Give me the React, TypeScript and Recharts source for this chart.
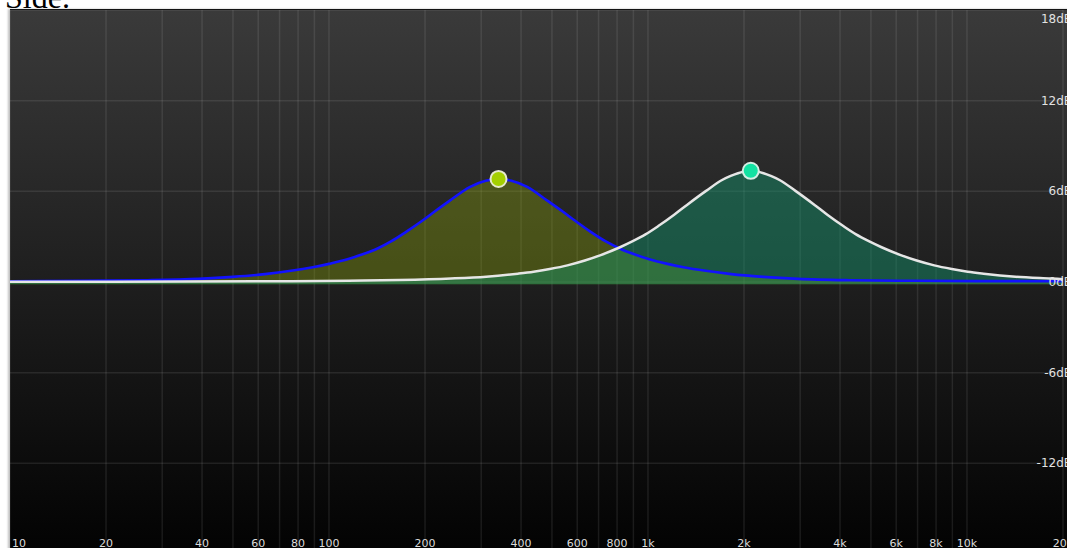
import React from 'react';
import {
  ComposedChart,
  Area,
  Line,
  XAxis,
  YAxis,
  CartesianGrid,
  ReferenceDot,
} from 'recharts';

// band 1 (blue curve, olive fill): [frequency Hz, gain dB]
const BAND1: [number, number][] = [
  [10, 0.05], [17, 0.08], [27, 0.12], [39, 0.21], [50, 0.34], [63, 0.52], [76, 0.74],
  [89, 0.98], [100, 1.2], [115, 1.52], [126, 1.8], [142, 2.22], [157, 2.7], [174, 3.3],
  [196, 4.05], [215, 4.68], [238, 5.35], [277, 6.3], [310, 6.7], [340, 6.82], [373, 6.7],
  [418, 6.3], [486, 5.35], [539, 4.68], [591, 4.05], [663, 3.3], [735, 2.7], [815, 2.22],
  [915, 1.8], [1003, 1.52], [1151, 1.2], [1292, 0.98], [1518, 0.74], [1825, 0.52],
  [2298, 0.34], [2959, 0.21], [4278, 0.12], [6780, 0.08], [10750, 0.06], [20000, 0.05],
];

// band 2 (white curve, teal fill): [frequency Hz, gain dB]
const BAND2: [number, number][] = [
  [10, 0.01], [21, 0.02], [66, 0.05], [115, 0.08], [166, 0.13], [241, 0.23], [311, 0.35],
  [391, 0.55], [438, 0.68], [492, 0.86], [559, 1.1], [634, 1.42], [711, 1.78], [817, 2.3],
  [896, 2.7], [982, 3.15], [1077, 3.7], [1208, 4.45], [1325, 5.1], [1521, 6.03],
  [1707, 6.75], [1817, 7.02], [1915, 7.2], [2100, 7.36], [2303, 7.2], [2427, 7.02],
  [2584, 6.75], [2899, 6.03], [3328, 5.1], [3649, 4.45], [4095, 3.7], [4490, 3.15],
  [4923, 2.7], [5398, 2.3], [6198, 1.78], [6955, 1.42], [7894, 1.1], [8960, 0.86],
  [10054, 0.68], [11281, 0.55], [14202, 0.35], [18318, 0.23], [20000, 0.19],
];

const PEAKS = [
  { f: 340, db: 6.82, fill: '#a4cf00', stroke: '#e6e8cc' },
  { f: 2100, db: 7.36, fill: '#12e2a2', stroke: '#d4eee4' },
];

const GRID_FREQS = [
  10, 20, 30, 40, 50, 60, 70, 80, 90, 100, 200, 300, 400, 500, 600, 700, 800, 900,
  1000, 2000, 3000, 4000, 5000, 6000, 7000, 8000, 9000, 10000, 20000,
];
const FREQ_LABELS: Record<number, string> = {
  10: '10', 20: '20', 40: '40', 60: '60', 80: '80', 100: '100', 200: '200', 400: '400',
  600: '600', 800: '800', 1000: '1k', 2000: '2k', 4000: '4k', 6000: '6k', 8000: '8k',
  10000: '10k', 20000: '20k',
};

const DB_TICKS = [-18, -12, -6, 0, 6, 12, 18];

// merge both bands into one table keyed by frequency
const rows = new Map<number, { f: number; b1?: number; b2?: number }>();
BAND1.forEach(([f, db]) => rows.set(f, { ...(rows.get(f) || { f }), b1: db }));
BAND2.forEach(([f, db]) => rows.set(f, { ...(rows.get(f) || { f }), b2: db }));
const data = Array.from(rows.values()).sort((a, b) => a.f - b.f);

function FreqTick({ x, y, payload }: any) {
  const label = FREQ_LABELS[payload.value];
  if (!label) return null;
  const first = payload.value === 10;
  return (
    <text
      x={first ? x + 2 : x}
      y={y - 7}
      textAnchor={first ? 'start' : 'middle'}
      fill="#dcdcdc"
      fontSize={11}
      fontFamily="DejaVu Sans, sans-serif"
    >
      {label}
    </text>
  );
}

function DbTick({ x, y, payload }: any) {
  if (payload.value === -18) return null;
  return (
    <text
      x={x + 9}
      y={Math.max(y + 4, 13)}
      textAnchor="end"
      fill="#e2e2e2"
      fontSize={12}
      fontFamily="DejaVu Sans, sans-serif"
    >
      {payload.value + 'dB'}
    </text>
  );
}

export default function App() {
  return (
    <div style={{ position: 'fixed', left: 0, top: 0, width: 1067, height: 548, overflow: 'hidden', background: '#fff' }}>
      <div
        style={{
          position: 'absolute',
          left: 5,
          top: -19,
          fontFamily: 'Liberation Serif, serif',
          fontSize: 32,
          lineHeight: '32px',
          color: '#000',
        }}
      >
        Side.
      </div>
      <div
        style={{
          position: 'absolute',
          left: 10,
          top: 9,
          width: 1076,
          height: 546,
          borderTop: '1px solid #141414',
          background: 'linear-gradient(to bottom, #3a3a3a 0%, #1e1e1e 50%, #020202 100%)',
          boxShadow: '-2px 0 2px rgba(0,0,0,0.25)',
        }}
      >
        <ComposedChart width={1076} height={545} data={data} margin={{ top: 0, right: 22, left: 0, bottom: 0 }}>
          <CartesianGrid stroke="rgba(255,255,255,0.09)" strokeWidth={1.5} />
          <XAxis
            dataKey="f"
            type="number"
            scale="log"
            domain={[10, 20000]}
            ticks={GRID_FREQS}
            interval={0}
            height={1}
            tickSize={0}
            tickMargin={0}
            axisLine={false}
            tickLine={false}
            tick={<FreqTick />}
            allowDataOverflow
          />
          <YAxis
            type="number"
            orientation="right"
            domain={[-18, 18]}
            ticks={DB_TICKS}
            interval={0}
            width={1}
            tickSize={0}
            tickMargin={0}
            axisLine={false}
            tickLine={false}
            tick={<DbTick />}
          />
          <Area
            type="monotone"
            dataKey="b1"
            baseValue={-0.15}
            stroke="none"
            fill="rgb(145,172,10)"
            fillOpacity={0.35}
            connectNulls
            isAnimationActive={false}
          />
          <Area
            type="monotone"
            dataKey="b2"
            baseValue={-0.15}
            stroke="none"
            fill="rgb(20,150,110)"
            fillOpacity={0.45}
            connectNulls
            isAnimationActive={false}
          />
          <Line
            type="monotone"
            dataKey="b1"
            stroke="#1212ff"
            strokeWidth={2.6}
            dot={false}
            connectNulls
            isAnimationActive={false}
          />
          <Line
            type="monotone"
            dataKey="b2"
            stroke="#e6e6e6"
            strokeWidth={2.5}
            dot={false}
            connectNulls
            isAnimationActive={false}
          />
          {PEAKS.map((p) => (
            <ReferenceDot
              key={p.f}
              x={p.f}
              y={p.db}
              r={8}
              fill={p.fill}
              stroke={p.stroke}
              strokeWidth={2}
            />
          ))}
        </ComposedChart>
      </div>
    </div>
  );
}
